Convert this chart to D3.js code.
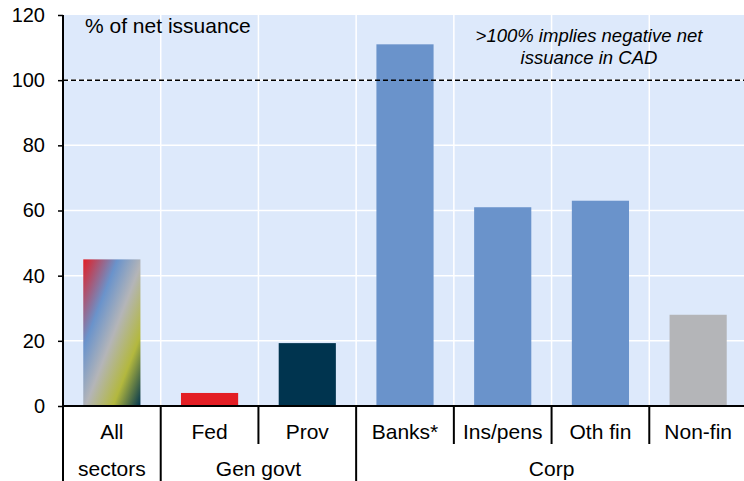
<!DOCTYPE html>
<html>
<head>
<meta charset="utf-8">
<script src="https://cdn.jsdelivr.net/npm/d3@7"></script>
<style>
  body { margin: 0; background: #fff; }
  svg text { font-family: "Liberation Sans", Arial, sans-serif; fill: #000; }
</style>
</head>
<body>
<svg id="chart"></svg>
<script>
const categories = ["All", "Fed", "Prov", "Banks*", "Ins/pens", "Oth fin", "Non-fin"];
const values = [45, 4, 19.3, 111, 61, 63, 28];
const barColors = ["gradient", "#e31e24", "#00344f", "#6a93cb", "#6a93cb", "#6a93cb", "#b4b5b8"];
const groupNames = ["sectors", "Gen govt", "Corp"];
const groupSpans = [[0, 0], [1, 2], [3, 6]];
const yTicks = [0, 20, 40, 60, 80, 100, 120];

const width = 744, height = 481;
const margin = { top: 15, right: 0, bottom: 75, left: 63 };
const plotBottom = height - margin.bottom; // 406

const svg = d3.select("#chart").attr("width", width).attr("height", height);

// the last slot runs a little past the right edge of the picture
const x = d3.scaleBand()
    .domain(categories)
    .range([margin.left, width + 3])
    .paddingInner(0.415)
    .paddingOuter(0.2075);
const step = x.step();
const slotLeft = i => margin.left + i * step;

const y = d3.scaleLinear().domain([0, 120]).range([plotBottom, margin.top]);

// gradient for "All sectors"
const defs = svg.append("defs");
const grad = defs.append("linearGradient")
    .attr("id", "allGrad")
    .attr("x1", "0").attr("y1", "0").attr("x2", "1").attr("y2", "1");
[["0%", "#e31e24"], ["30%", "#6a93cb"], ["52%", "#b4b5b8"], ["76%", "#b3b83e"], ["100%", "#00344f"]]
    .forEach(([o, c]) => grad.append("stop").attr("offset", o).attr("stop-color", c));

// background
svg.append("rect")
    .attr("x", margin.left).attr("y", margin.top)
    .attr("width", width - margin.right - margin.left)
    .attr("height", plotBottom - margin.top)
    .attr("fill", "#dde9fb");

// grid
svg.append("g").selectAll("line")
    .data(yTicks.slice(1, -1))
    .join("line")
    .attr("x1", margin.left).attr("x2", width)
    .attr("y1", d => y(d)).attr("y2", d => y(d))
    .attr("stroke", "#fff").attr("stroke-width", 1.5);

svg.append("g").selectAll("line")
    .data(d3.range(1, categories.length))
    .join("line")
    .attr("x1", i => slotLeft(i)).attr("x2", i => slotLeft(i))
    .attr("y1", margin.top).attr("y2", plotBottom)
    .attr("stroke", "#fff").attr("stroke-width", 1.5);

// bars
svg.append("g").selectAll("rect")
    .data(categories)
    .join("rect")
    .attr("x", d => x(d))
    .attr("width", x.bandwidth())
    .attr("y", (d, i) => y(values[i]))
    .attr("height", (d, i) => plotBottom - y(values[i]))
    .attr("fill", (d, i) => barColors[i] === "gradient" ? "url(#allGrad)" : barColors[i]);

// 100% line
svg.append("line")
    .attr("x1", margin.left).attr("x2", width)
    .attr("y1", y(100)).attr("y2", y(100))
    .attr("stroke", "#000").attr("stroke-width", 1.5)
    .attr("stroke-dasharray", "5,3");

// y axis
const yAxis = svg.append("g")
    .attr("transform", `translate(${margin.left},0)`)
    .call(d3.axisLeft(y).tickValues(yTicks).tickSize(5).tickPadding(13));
yAxis.select(".domain").remove();
yAxis.selectAll("line").attr("stroke", "#000").attr("stroke-width", 1.5);
yAxis.selectAll("text").attr("font-size", 20).attr("font-family", "Liberation Sans, Arial, sans-serif");
svg.append("line")
    .attr("x1", margin.left).attr("x2", margin.left)
    .attr("y1", margin.top).attr("y2", height)
    .attr("stroke", "#000").attr("stroke-width", 2);

// x axis line
svg.append("line")
    .attr("x1", margin.left).attr("x2", width)
    .attr("y1", plotBottom).attr("y2", plotBottom)
    .attr("stroke", "#000").attr("stroke-width", 2);

// separators: full at group edges, short inside groups
const groupEdges = groupSpans.map(s => s[0]);
svg.append("g").selectAll("line")
    .data(d3.range(1, categories.length))
    .join("line")
    .attr("x1", i => slotLeft(i)).attr("x2", i => slotLeft(i))
    .attr("y1", plotBottom)
    .attr("y2", i => groupEdges.includes(i) ? height : 444)
    .attr("stroke", "#000").attr("stroke-width", 2);

// category labels
svg.append("g").selectAll("text")
    .data(categories)
    .join("text")
    .attr("x", d => x(d) + x.bandwidth() / 2)
    .attr("y", 439)
    .attr("text-anchor", "middle")
    .attr("font-size", 21)
    .text(d => d);

// group labels
svg.append("g").selectAll("text")
    .data(groupNames)
    .join("text")
    .attr("x", (d, i) => (slotLeft(groupSpans[i][0]) + slotLeft(groupSpans[i][1] + 1)) / 2)
    .attr("y", 476)
    .attr("text-anchor", "middle")
    .attr("font-size", 21)
    .text(d => d);

// annotations
svg.append("text")
    .attr("x", 85).attr("y", 33)
    .attr("font-size", 21)
    .text("% of net issuance");

const note = svg.append("text")
    .attr("x", 589).attr("y", 42)
    .attr("text-anchor", "middle")
    .attr("font-size", 18.5)
    .attr("font-style", "italic");
note.append("tspan").attr("x", 589).text(">100% implies negative net");
note.append("tspan").attr("x", 589).attr("dy", 22).text("issuance in CAD");
</script>
</body>
</html>
